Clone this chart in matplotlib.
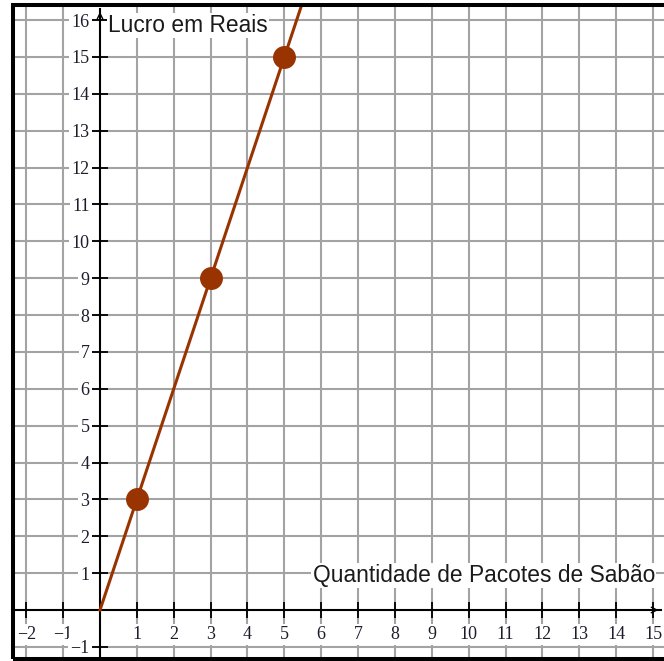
import matplotlib.pyplot as plt
from matplotlib.patches import Rectangle

# dados
pontos_x = [1, 3, 5]
pontos_y = [3, 9, 15]
reta_x = [0, 6]
reta_y = [0, 18]
x_ticks = [-2, -1, 1, 2, 3, 4, 5, 6, 7, 8, 9, 10, 11, 12, 13, 14, 15]
y_ticks = [-1, 1, 2, 3, 4, 5, 6, 7, 8, 9, 10, 11, 12, 13, 14, 15, 16]
titulo_y = 'Lucro em Reais'
titulo_x = 'Quantidade de Pacotes de Sabão'

cor = '#993300'
W, H = 664, 661

fig = plt.figure(figsize=(W / 100, H / 100), dpi=100)
ax = fig.add_axes([13 / W, 2 / H, 651 / W, 654 / H])
ax.set_xlim(-2.36, 15.297)
ax.set_ylim(-1.329, 16.41)

# eixos passando pela origem
for s in ['top', 'right']:
    ax.spines[s].set_visible(False)
ax.spines['left'].set_position(('data', 0))
ax.spines['bottom'].set_position(('data', 0))
ax.spines['left'].set_bounds(-1.329, 16.3)
ax.spines['bottom'].set_bounds(-2.36, 15.22)
for s in ['left', 'bottom']:
    ax.spines[s].set_linewidth(1.5)
    ax.spines[s].set_color('black')

ax.set_xticks(x_ticks, [str(v).replace('-', '\u2212') for v in x_ticks])
ax.set_yticks(y_ticks, [str(v).replace('-', '\u2212') for v in y_ticks])
ax.grid(True, color='#a3a3a3', lw=1.5)
ax.set_axisbelow(True)
ax.tick_params(direction='inout', length=11, width=1.3,
               color='black', labelcolor='#1c1c2c', labelsize=13)
ax.tick_params(axis='x', pad=6)
ax.tick_params(axis='y', pad=2)
for lbl in ax.get_xticklabels() + ax.get_yticklabels():
    lbl.set_fontfamily('Liberation Serif')
    lbl.set_bbox(dict(facecolor='white', edgecolor='none', pad=1.5))

# pontas de seta
ax.annotate('', xy=(0, 16.3), xytext=(0, 15.9),
            arrowprops=dict(arrowstyle='->', lw=1.0, color='black',
                            mutation_scale=10))
ax.annotate('', xy=(15.22, 0), xytext=(14.8, 0),
            arrowprops=dict(arrowstyle='->', lw=1.0, color='black',
                            mutation_scale=10), annotation_clip=False)

# reta e pontos
ax.plot(reta_x, reta_y, color=cor, lw=2.2, zorder=3)
ax.plot(pontos_x, pontos_y, 'o', color=cor, ms=15.5, zorder=4)

ax.text(0.217, 15.68, titulo_y, family='Liberation Sans', fontsize=16.4,
        color='#1a1a1a', va='baseline', ha='left', zorder=5,
        bbox=dict(facecolor='white', edgecolor='none', pad=1))
ax.text(15.05, 0.76, titulo_x, family='Liberation Sans', fontsize=16.4,
        color='#1a1a1a', va='baseline', ha='right', zorder=5,
        bbox=dict(facecolor='white', edgecolor='none', pad=1))

# moldura
fig.add_artist(Rectangle((13 / W, 2 / H), 1.2, 654 / H, transform=fig.transFigure,
                         fill=False, lw=2.9, edgecolor='black'))

fig.savefig('out.png', dpi=100)
